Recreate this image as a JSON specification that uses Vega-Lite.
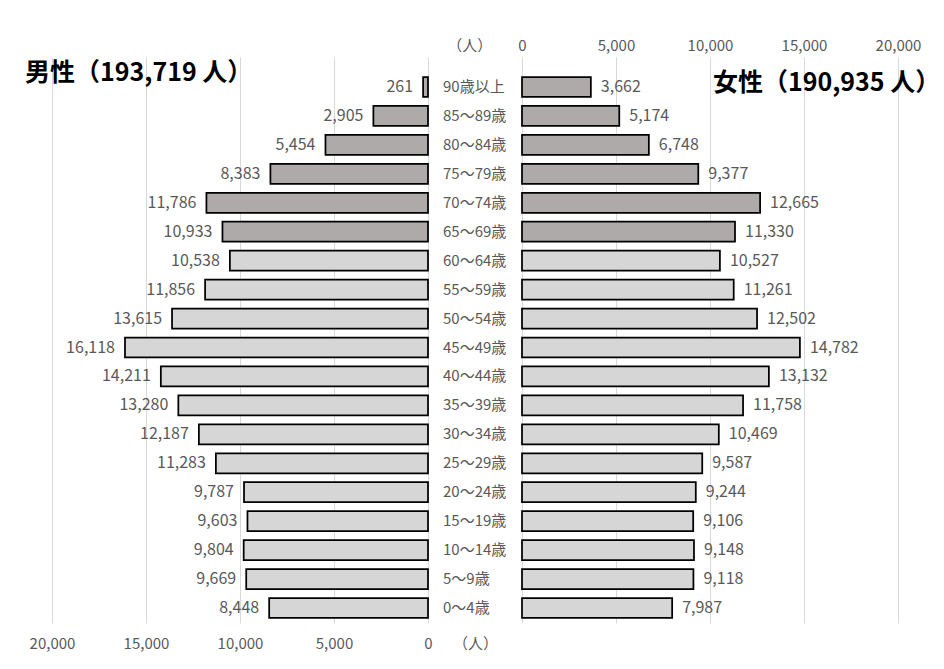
{
  "$schema": "https://vega.github.io/schema/vega-lite/v6.json",
  "width": 846,
  "height": 566,
  "autosize": {"type": "none"},
  "padding": {"left": 52, "top": 57, "right": 46, "bottom": 46},
  "background": "white",
  "config": {
    "view": {"stroke": null},
    "font": "Noto Sans CJK JP",
    "axis": {"labelFont": "Noto Sans CJK JP"},
    "text": {"font": "Noto Sans CJK JP"}
  },
  "data": {
    "values": [
      {"age": "90歳以上", "male": 261, "female": 3662, "category": "65歳以上"},
      {"age": "85～89歳", "male": 2905, "female": 5174, "category": "65歳以上"},
      {"age": "80～84歳", "male": 5454, "female": 6748, "category": "65歳以上"},
      {"age": "75～79歳", "male": 8383, "female": 9377, "category": "65歳以上"},
      {"age": "70～74歳", "male": 11786, "female": 12665, "category": "65歳以上"},
      {"age": "65～69歳", "male": 10933, "female": 11330, "category": "65歳以上"},
      {"age": "60～64歳", "male": 10538, "female": 10527, "category": "64歳以下"},
      {"age": "55～59歳", "male": 11856, "female": 11261, "category": "64歳以下"},
      {"age": "50～54歳", "male": 13615, "female": 12502, "category": "64歳以下"},
      {"age": "45～49歳", "male": 16118, "female": 14782, "category": "64歳以下"},
      {"age": "40～44歳", "male": 14211, "female": 13132, "category": "64歳以下"},
      {"age": "35～39歳", "male": 13280, "female": 11758, "category": "64歳以下"},
      {"age": "30～34歳", "male": 12187, "female": 10469, "category": "64歳以下"},
      {"age": "25～29歳", "male": 11283, "female": 9587, "category": "64歳以下"},
      {"age": "20～24歳", "male": 9787, "female": 9244, "category": "64歳以下"},
      {"age": "15～19歳", "male": 9603, "female": 9106, "category": "64歳以下"},
      {"age": "10～14歳", "male": 9804, "female": 9148, "category": "64歳以下"},
      {"age": "5～9歳", "male": 9669, "female": 9118, "category": "64歳以下"},
      {"age": "0～4歳", "male": 8448, "female": 7987, "category": "64歳以下"}
    ]
  },
  "encoding": {
    "y": {
      "field": "age",
      "type": "nominal",
      "axis": null,
      "scale": {
        "domain": ["90歳以上", "85～89歳", "80～84歳", "75～79歳", "70～74歳", "65～69歳", "60～64歳", "55～59歳", "50～54歳", "45～49歳", "40～44歳", "35～39歳", "30～34歳", "25～29歳", "20～24歳", "15～19歳", "10～14歳", "5～9歳", "0～4歳"],
        "paddingInner": 0.31,
        "paddingOuter": 0.432,
        "align": 0.8
      }
    }
  },
  "layer": [
    {
      "encoding": {
        "x": {
          "field": "male",
          "type": "quantitative",
          "scale": {"domain": [-25000, 20000], "reverse": true, "nice": false},
          "axis": {
            "orient": "bottom",
            "title": null,
            "values": [0, 5000, 10000, 15000, 20000, -2500],
            "labelExpr": "datum.value === -2500 ? '（人）' : format(datum.value, ',')",
            "grid": true,
            "gridColor": "#d9d9d9",
            "gridWidth": 1,
            "gridOpacity": {"condition": {"test": "datum.value === -2500", "value": 0}, "value": 1},
            "domain": false,
            "ticks": false,
            "tickSize": 0,
            "labelPadding": 13,
            "labelFontSize": 15,
            "labelColor": "#595959",
            "labelOverlap": false,
            "labelFlush": false,
            "labelBound": false
          }
        }
      },
      "layer": [
        {
          "mark": {"type": "bar", "stroke": "black", "strokeWidth": 1.75},
          "encoding": {
            "fill": {
              "field": "category",
              "type": "nominal",
              "scale": {"domain": ["65歳以上", "64歳以下"], "range": ["#aeaaaa", "#d6d6d6"]},
              "legend": null
            }
          }
        },
        {
          "mark": {"type": "text", "align": "right", "dx": -10, "fontSize": 16, "color": "#595959"},
          "encoding": {"text": {"field": "male", "type": "quantitative", "format": ","}}
        },
        {
          "transform": [{"filter": "datum.age === '90歳以上'"}],
          "mark": {"type": "text", "align": "left", "fontSize": 25, "fontWeight": "bold", "color": "black", "dy": -14},
          "encoding": {
            "x": {"datum": 21436, "type": "quantitative"},
            "text": {"value": "男性（193,719 人）"}
          }
        }
      ]
    },
    {
      "encoding": {
        "x": {
          "field": "female",
          "type": "quantitative",
          "scale": {"domain": [-25000, 20000], "nice": false},
          "axis": {
            "orient": "top",
            "title": null,
            "values": [0, 5000, 10000, 15000, 20000, -2800],
            "labelExpr": "datum.value === -2800 ? '（人）' : format(datum.value, ',')",
            "grid": true,
            "gridColor": "#d9d9d9",
            "gridWidth": 1,
            "gridOpacity": {"condition": {"test": "datum.value === -2800", "value": 0}, "value": 1},
            "domain": false,
            "ticks": false,
            "tickSize": 0,
            "labelPadding": 4,
            "labelFontSize": 15,
            "labelColor": "#595959",
            "labelOverlap": false,
            "labelFlush": false,
            "labelBound": false
          }
        }
      },
      "layer": [
        {
          "mark": {"type": "bar", "stroke": "black", "strokeWidth": 1.75},
          "encoding": {
            "fill": {
              "field": "category",
              "type": "nominal",
              "scale": {"domain": ["65歳以上", "64歳以下"], "range": ["#aeaaaa", "#d6d6d6"]},
              "legend": null
            }
          }
        },
        {
          "mark": {"type": "text", "align": "left", "dx": 10, "fontSize": 16, "color": "#595959"},
          "encoding": {"text": {"field": "female", "type": "quantitative", "format": ","}}
        },
        {
          "mark": {"type": "text", "align": "left", "fontSize": 15, "color": "#595959"},
          "encoding": {
            "x": {"datum": -4202, "type": "quantitative"},
            "text": {"field": "age", "type": "nominal"}
          }
        },
        {
          "transform": [{"filter": "datum.age === '90歳以上'"}],
          "mark": {"type": "text", "align": "left", "fontSize": 25, "fontWeight": "bold", "color": "black", "dy": -4},
          "encoding": {
            "x": {"datum": 10159, "type": "quantitative"},
            "text": {"value": "女性（190,935 人）"}
          }
        }
      ]
    }
  ],
  "resolve": {"scale": {"x": "independent"}}
}
